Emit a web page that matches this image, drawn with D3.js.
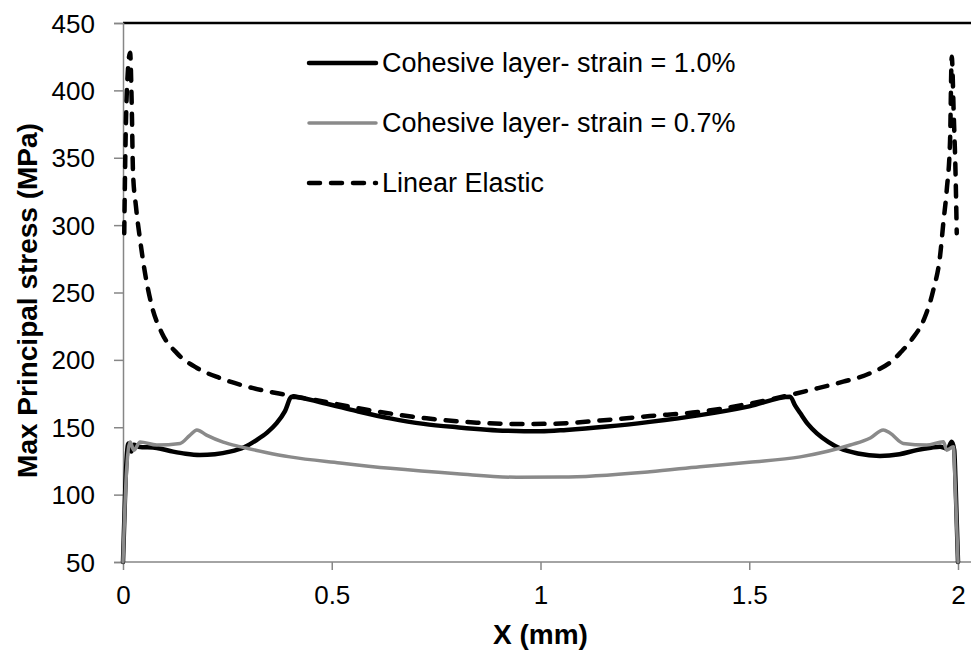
<!DOCTYPE html>
<html>
<head>
<meta charset="utf-8">
<script src="https://cdn.jsdelivr.net/npm/d3@7"></script>
<style>
  body { margin: 0; background: #fff; }
  text { font-family: "Liberation Sans", Arial, sans-serif; fill: #000; }
</style>
</head>
<body>
<svg id="chart" width="971" height="654"></svg>
<script>
// values
const xTicks = [0, 0.5, 1, 1.5, 2];
const yTicks = [50, 100, 150, 200, 250, 300, 350, 400, 450];
const seriesNames = ["Cohesive layer- strain = 1.0%", "Cohesive layer- strain = 0.7%", "Linear Elastic"];

const strain10 = [
  [0, 50], [0.006, 110], [0.013, 138], [0.02, 132], [0.026, 137], [0.037, 135.6], [0.081, 134.6],
  [0.12, 131.9], [0.15, 130.3], [0.184, 129.4], [0.22, 130], [0.256, 131.9], [0.29, 135.2],
  [0.32, 140.5], [0.345, 146], [0.368, 153], [0.388, 162], [0.404, 172.7],
  [0.48, 168], [0.56, 162], [0.64, 156.6], [0.72, 152.5], [0.8, 150], [0.919, 147.4], [1.0, 147],
  [1.062, 148], [1.16, 150.5], [1.262, 154], [1.382, 159], [1.5, 165.5], [1.598, 172.7],
  [1.61, 166], [1.622, 160.5], [1.64, 152.5], [1.662, 145.5], [1.69, 139], [1.717, 134.4],
  [1.76, 130.5], [1.813, 128.7], [1.86, 130], [1.901, 133], [1.935, 134.8], [1.957, 135.6],
  [1.975, 134], [1.985, 139.3], [1.991, 133], [1.994, 110], [2.0, 50]
];

const strain07 = [
  [0, 50], [0.008, 115], [0.017, 139], [0.026, 133], [0.041, 139], [0.081, 136.8], [0.137, 138],
  [0.16, 144], [0.177, 148], [0.2, 144.2], [0.24, 139], [0.28, 135.6], [0.34, 131.5], [0.4, 128],
  [0.52, 123.5], [0.64, 119.5], [0.8, 115.5], [0.943, 112.9], [1.05, 113], [1.262, 117],
  [1.382, 120.7], [1.5, 124], [1.622, 128], [1.742, 136.8], [1.79, 142], [1.821, 148],
  [1.837, 145.7], [1.869, 138], [1.925, 136.8], [1.965, 139.3], [1.973, 133], [1.989, 135.6],
  [1.993, 110], [2.0, 50]
];

const linearElastic = [
  [0.003, 294], [0.006, 360], [0.01, 405], [0.017, 428], [0.021, 388], [0.024, 339], [0.031, 314],
  [0.041, 289], [0.053, 264], [0.069, 240], [0.093, 220], [0.129, 205], [0.177, 194],
  [0.232, 186.5], [0.312, 179], [0.392, 174], [0.464, 170], [0.584, 163], [0.727, 156.6],
  [0.847, 153.4], [0.943, 152.4], [1.03, 152.6], [1.143, 155], [1.262, 158.3], [1.382, 161.5],
  [1.5, 167.5], [1.598, 174], [1.646, 177.6], [1.725, 183.8], [1.789, 190], [1.845, 200], [1.861, 205],
  [1.889, 215], [1.921, 232], [1.941, 252], [1.957, 277], [1.965, 302], [1.973, 326],
  [1.981, 363], [1.985, 425], [1.99, 380], [1.994, 340], [1.997, 294]
];

const svg = d3.select("#chart");
const axisColor = "#868686";

const x = d3.scaleLinear().domain([0, 2]).range([123, 958]);
const y = d3.scaleLinear().domain([50, 450]).range([562, 23]);

// top border line
svg.append("line")
  .attr("x1", x(0)).attr("x2", 971)
  .attr("y1", y(450)).attr("y2", y(450))
  .attr("stroke", "#000").attr("stroke-width", 2.5);

// y axis
const yAxis = svg.append("g")
  .attr("transform", "translate(" + x(0) + ",0)")
  .call(d3.axisLeft(y).tickValues(yTicks).tickSizeOuter(0).tickSize(9).tickPadding(19));
yAxis.select(".domain").attr("stroke", axisColor).attr("stroke-width", 1.5);
yAxis.selectAll(".tick line").attr("stroke", axisColor).attr("stroke-width", 1.5);
yAxis.selectAll(".tick text").style("font-size", "26px").attr("dy", "0.35em");

// x axis
const xAxis = svg.append("g")
  .attr("transform", "translate(0," + y(50) + ")")
  .call(d3.axisBottom(x).tickValues(xTicks).tickFormat(d3.format("")).tickSizeOuter(0).tickSize(8).tickPadding(16));
xAxis.select(".domain").remove();
xAxis.selectAll(".tick line").attr("stroke", axisColor).attr("stroke-width", 1.5);
xAxis.selectAll(".tick text").style("font-size", "26px");
xAxis.append("line")
  .attr("x1", x(0)).attr("x2", 971)
  .attr("stroke", axisColor).attr("stroke-width", 1.5);

// axis titles
svg.append("text")
  .attr("transform", "translate(37," + ((y(50) + y(450)) / 2 + 8) + ") rotate(-90)")
  .attr("text-anchor", "middle")
  .style("font-size", "28px").style("font-weight", "bold")
  .text("Max Principal stress (MPa)");

svg.append("text")
  .attr("x", x(1)).attr("y", 644)
  .attr("text-anchor", "middle")
  .style("font-size", "28px").style("font-weight", "bold")
  .text("X (mm)");

// series
const line = d3.line().x(d => x(d[0])).y(d => y(d[1])).curve(d3.curveMonotoneX);

const styles = [
  { data: strain10, color: "#000", width: 4.5, dash: null },
  { data: strain07, color: "#8a8a8a", width: 3.5, dash: null },
  { data: linearElastic, color: "#000", width: 4.5, dash: "11,11" }
];

styles.forEach(s => {
  svg.append("path")
    .datum(s.data)
    .attr("d", line)
    .attr("fill", "none")
    .attr("stroke", s.color)
    .attr("stroke-width", s.width)
    .attr("stroke-linejoin", "round")
    .attr("stroke-linecap", "round")
    .attr("stroke-dasharray", s.dash);
});

// legend
const legendY = [63, 123, 183];
const legend = svg.append("g");
styles.forEach((s, i) => {
  legend.append("line")
    .attr("x1", 309).attr("x2", 376)
    .attr("y1", legendY[i]).attr("y2", legendY[i])
    .attr("stroke", s.color)
    .attr("stroke-width", s.width)
    .attr("stroke-linecap", "round")
    .attr("stroke-dasharray", s.dash);
  legend.append("text")
    .attr("x", 382).attr("y", legendY[i])
    .attr("dy", "0.35em")
    .style("font-size", "27px")
    .text(seriesNames[i]);
});
</script>
</body>
</html>
